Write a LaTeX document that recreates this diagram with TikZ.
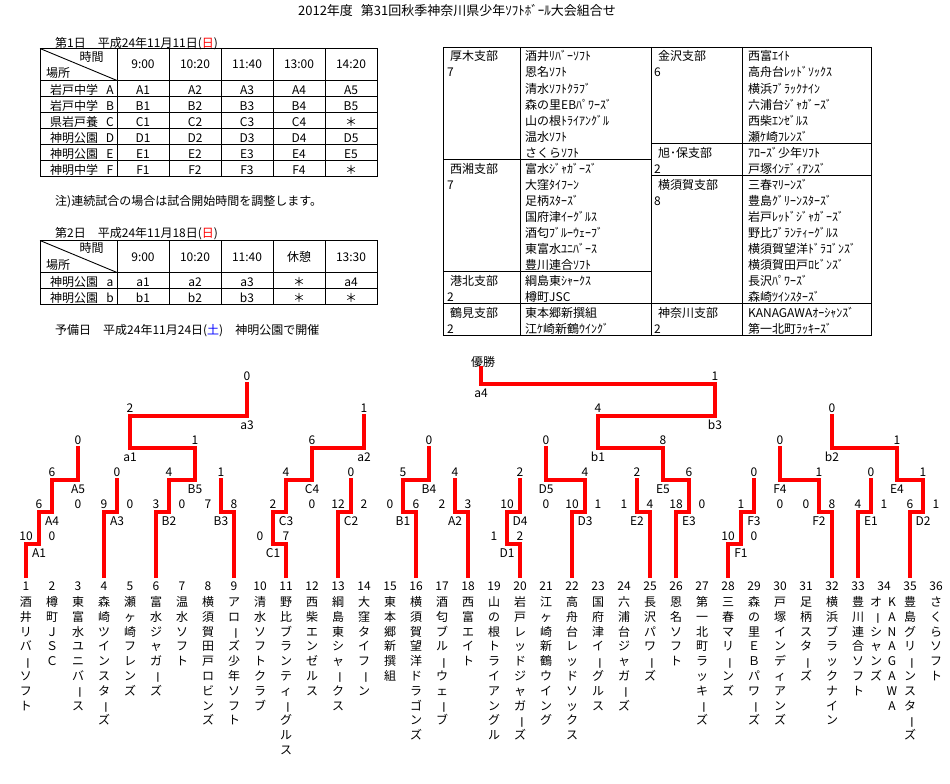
\documentclass[tikz,border=0pt]{standalone}
\usepackage{fontspec}
\usepackage{graphicx}
\setmainfont{Noto Sans CJK JP}
\usetikzlibrary{calc}
\pgfdeclarelayer{bg}
\pgfsetlayers{bg,main}
\newcommand\fsz{\fontsize{12}{14}\selectfont}
\makeatletter
\def\vt#1{\vbox{\offinterlineskip\vt@#1\relax}}
\def\vt@#1{\ifx\relax#1\else\vt@one{#1}\expandafter\vt@\fi}
\def\vt@one#1{\hbox to 13pt{\hss\vrule width0pt height11pt depth3.8pt\vt@chk{#1}\hss}}
\def\vt@bar{ー}
\def\vt@chk#1{\def\vt@tmp{#1}\ifx\vt@tmp\vt@bar\rotatebox[origin=c]{-90}{ー}\else#1\fi}
\makeatother
\newcommand\vtx[1]{\expandafter\vt\expandafter{#1}}
\tikzset{
  every node/.style={font=\fsz,inner sep=0pt},
  tx/.style={text height=10pt,text depth=1pt},
  win/.style={draw=red,line width=3.4pt,line cap=rect},
  lose/.style={draw=black,line width=0.9pt},
  grid/.style={draw=black,line width=0.9pt},
}
% #1 name #2 x #3 y #4 left child #5 right child #6 left score #7 right score #8 winner L/R #9 loser is match(1)/leaf(0)
\newcommand\bm[9]{%
  \coordinate (#1) at (#2,#3);
  \coordinate (#1L) at (#4 |- #1);
  \coordinate (#1R) at (#5 |- #1);
  \node[tx] (#1sl) at ([yshift=8pt]#1L) {#6};
  \node[tx] (#1sr) at ([yshift=8pt]#1R) {#7};
  \node[tx] (#1n) at ([yshift=-9pt]#1) {#1};
  \ifx L#8\def\bmw{#4}\def\bml{#5}\def\bmx{#1R}\else\def\bmw{#5}\def\bml{#4}\def\bmx{#1L}\fi
  \draw[win] (\bmw) |- (#1);
  \ifnum#9=1
    \draw[win] (\bml) -- (\bmx);
    \begin{pgfonlayer}{bg}\draw[lose] (\bmx) -- (#1);\end{pgfonlayer}
  \else
    \begin{pgfonlayer}{bg}\draw[lose] (\bml) |- (#1);\end{pgfonlayer}
  \fi
}
\begin{document}
\begin{tikzpicture}[x=1pt,y=-1pt]
\fill[white] (0,0) rectangle (950,784);
\useasboundingbox (0,0) rectangle (950,784);

% title
\node[tx,font=\fontsize{13}{15}\selectfont] (title) at (457,11) {2012年度\hspace{8pt}第31回秋季神奈川県少年ｿﾌﾄﾎﾞｰﾙ大会組合せ};

% ---------- table 1
\node[tx,anchor=west] (d1) at (55,42.7) {第1日　平成24年11月11日(\textcolor{red}{日})};
\draw[grid] (40,48.5) rectangle (377,176.5);
\foreach \y in {80.5,96.5,...,160.5} \draw[grid] (40,\y) -- (377,\y);
\foreach \x in {117,169,...,325} \draw[grid] (\x,48.5) -- (\x,176.5);
\draw[grid] (40,48.5) -- (117,80.5);
\node[tx] (h1a) at (91.5,56.7) {時間};
\node[tx] (h1b) at (58,72.7) {場所};
\foreach \tm [count=\c] in {9:00,10:20,11:40,13:00,14:20}
  \node[tx] (h1t\c) at ({91+52*\c},64.5) {\tm};
\foreach \lb/\rl/\ca/\cb/\cc/\cd/\ce [count=\r] in {岩戸中学/A/A1/A2/A3/A4/A5,岩戸中学/B/B1/B2/B3/B4/B5,県岩戸養/C/C1/C2/C3/C4/＊,神明公園/D/D1/D2/D3/D4/D5,神明公園/E/E1/E2/E3/E4/E5,神明中学/F/F1/F2/F3/F4/＊}{
  \node[tx,anchor=west] (p\r) at (50,{74+16*\r}) {\lb};
  \node[tx] (q\r) at (110,{74+16*\r}) {\rl};
  \node[tx] (c\r a) at (143,{74+16*\r}) {\ca};
  \node[tx] (c\r b) at (195,{74+16*\r}) {\cb};
  \node[tx] (c\r c) at (247,{74+16*\r}) {\cc};
  \node[tx] (c\r d) at (299,{74+16*\r}) {\cd};
  \node[tx] (c\r e) at (351,{74+16*\r}) {\ce};
}
\node[tx,anchor=west] (note) at (55,200.7) {注)連続試合の場合は試合開始時間を調整します。};

% ---------- table 2
\node[tx,anchor=west] (d2) at (55,233.3) {第2日　平成24年11月18日(\textcolor{red}{日})};
\draw[grid] (40,240.5) rectangle (377,304.5);
\foreach \y in {272.5,288.5} \draw[grid] (40,\y) -- (377,\y);
\foreach \x in {117,169,...,325} \draw[grid] (\x,240.5) -- (\x,304.5);
\draw[grid] (40,240.5) -- (117,272.5);
\node[tx] (h2a) at (91.5,247.5) {時間};
\node[tx] (h2b) at (58,265) {場所};
\foreach \tm [count=\c] in {9:00,10:20,11:40,休憩,13:30}
  \node[tx] (h2t\c) at ({91+52*\c},256.5) {\tm};
\foreach \rl/\ca/\cb/\cc/\cd/\ce [count=\r] in {a/a1/a2/a3/＊/a4,b/b1/b2/b3/＊/＊}{
  \node[tx,anchor=west] (pp\r) at (50,{266+16*\r}) {神明公園};
  \node[tx] (qq\r) at (110,{266+16*\r}) {\rl};
  \node[tx] (cc\r a) at (143,{266+16*\r}) {\ca};
  \node[tx] (cc\r b) at (195,{266+16*\r}) {\cb};
  \node[tx] (cc\r c) at (247,{266+16*\r}) {\cc};
  \node[tx] (cc\r d) at (299,{266+16*\r}) {\cd};
  \node[tx] (cc\r e) at (351,{266+16*\r}) {\ce};
}
\node[tx,anchor=west] (spare) at (55,330) {予備日　平成24年11月24日(\textcolor{blue}{土})　神明公園で開催};

% ---------- branch table
\draw[grid] (443,47) rectangle (871,335);
\draw[grid] (651,47) -- (651,335);
\draw[grid] (520,47) -- (520,335);
\draw[grid] (742,47) -- (742,335);
\foreach \y in {159,271,303} \draw[grid] (443,\y) -- (651,\y);
\foreach \y in {143,175,303} \draw[grid] (651,\y) -- (871,\y);
\foreach \br/\nb/\k [count=\i] in {厚木支部/7/0,西湘支部/7/7,港北支部/2/14,鶴見支部/2/16}{
  \node[tx,anchor=west] (bl\i) at (450,{56.5+16*\k}) {\br};
  \node[tx,anchor=west] (bln\i) at (447,{72.5+16*\k}) {\nb};
}
\foreach \br/\nb/\k [count=\i] in {金沢支部/6/0,旭･保支部/2/6,横須賀支部/8/8,神奈川支部/2/16}{
  \node[tx,anchor=west] (br\i) at (658,{56.5+16*\k}) {\br};
  \node[tx,anchor=west] (brn\i) at (654,{72.5+16*\k}) {\nb};
}
\foreach \tm [count=\i from 0] in {酒井ﾘﾊﾞｰｿﾌﾄ,恩名ｿﾌﾄ,清水ｿﾌﾄｸﾗﾌﾞ,森の里EBﾊﾟﾜｰｽﾞ,山の根ﾄﾗｲｱﾝｸﾞﾙ,温水ｿﾌﾄ,さくらｿﾌﾄ,富水ｼﾞｬｶﾞｰｽﾞ,大窪ﾀｲﾌｰﾝ,足柄ｽﾀｰｽﾞ,国府津ｲｰｸﾞﾙｽ,酒匂ﾌﾞﾙｰｳｪｰﾌﾞ,東富水ﾕﾆﾊﾞｰｽ,豊川連合ｿﾌﾄ,綱島東ｼｬｰｸｽ,樽町JSC,東本郷新撰組,江ｹ崎新鶴ｳｲﾝｸﾞ}
  \node[tx,anchor=west] (tl\i) at (525,{56.5+16*\i}) {\tm};
\foreach \tm [count=\i from 0] in {西富ｴｲﾄ,高舟台ﾚｯﾄﾞｿｯｸｽ,横浜ﾌﾞﾗｯｸﾅｲﾝ,六浦台ｼﾞｬｶﾞｰｽﾞ,西柴ｴﾝｾﾞﾙｽ,瀬ｹ崎ﾌﾚﾝｽﾞ,ｱﾛｰｽﾞ少年ｿﾌﾄ,戸塚ｲﾝﾃﾞｨｱﾝｽﾞ,三春ﾏﾘｰﾝｽﾞ,豊島ｸﾞﾘｰﾝｽﾀｰｽﾞ,岩戸ﾚｯﾄﾞｼﾞｬｶﾞｰｽﾞ,野比ﾌﾞﾗﾝﾃｨｰｸﾞﾙｽ,横須賀望洋ﾄﾞﾗｺﾞﾝｽﾞ,横須賀田戸ﾛﾋﾞﾝｽﾞ,長沢ﾊﾟﾜｰｽﾞ,森崎ﾂｲﾝｽﾀｰｽﾞ,KANAGAWAｵｰｼｬﾝｽﾞ,第一北町ﾗｯｷｰｽﾞ}
  \node[tx,anchor=west] (tr\i) at (748,{56.5+16*\i}) {\tm};

% ---------- bracket leaves
\foreach \i in {1,...,36}{
  \coordinate (t\i) at ({26*\i},576);
  \node[tx] (n\i) at ({26*\i},585.7) {\i};
}
\foreach \i/\nm in {1/酒井リバーソフト,2/樽町ＪＳＣ,3/東富水ユニバース,4/森崎ツインスターズ,5/瀬ヶ崎フレンズ,6/富水ジャガーズ,7/温水ソフト,8/横須賀田戸ロビンズ,9/アローズ少年ソフト,10/清水ソフトクラブ,11/野比ブランティーグルス,12/西柴エンゼルス,13/綱島東シャークス,14/大窪タイフーン,15/東本郷新撰組,16/横須賀望洋ドラゴンズ,17/酒匂ブルーウェーブ,18/西富エイト,19/山の根トライアングル,20/岩戸レッドジャガーズ,21/江ヶ崎新鶴ウイング,22/高舟台レッドソックス,23/国府津イーグルス,24/六浦台ジャガーズ,25/長沢パワーズ,26/恩名ソフト,27/第一北町ラッキーズ,28/三春マリーンズ,29/森の里ＥＢパワーズ,30/戸塚インディアンズ,31/足柄スターズ,32/横浜ブラックナイン,33/豊川連合ソフト,35/豊島グリーンスターズ,36/さくらソフト}
  \node[anchor=north] (nm\i) at ({26*\i},595.2) {\vtx{\nm}};
\node[anchor=north] (nm34a) at (892,595.2) {\vt{KANAGAWA}};
\node[anchor=north] (nm34b) at (876,595.2) {\vt{オーシャンズ}};

% ---------- matches
\bm{A1}{39}{544}{t1}{t2}{10}{0}{L}{0}
\bm{C1}{273}{544}{t10}{t11}{0}{7}{R}{0}
\bm{D1}{507}{544}{t19}{t20}{1}{2}{R}{0}
\bm{F1}{741}{544}{t28}{t29}{10}{0}{L}{0}

\bm{A4}{52}{512}{A1}{t3}{6}{0}{L}{0}
\bm{A3}{117}{512}{t4}{t5}{9}{0}{L}{0}
\bm{B2}{169}{512}{t6}{t7}{3}{0}{L}{0}
\bm{B3}{221}{512}{t8}{t9}{7}{8}{R}{0}
\bm{C3}{286}{512}{C1}{t12}{2}{0}{L}{0}
\bm{C2}{351}{512}{t13}{t14}{12}{2}{L}{0}
\bm{B1}{403}{512}{t15}{t16}{0}{6}{R}{0}
\bm{A2}{455}{512}{t17}{t18}{2}{3}{R}{0}
\bm{D4}{520}{512}{D1}{t21}{10}{0}{L}{0}
\bm{D3}{585}{512}{t22}{t23}{10}{1}{L}{0}
\bm{E2}{637}{512}{t24}{t25}{1}{4}{R}{0}
\bm{E3}{689}{512}{t26}{t27}{18}{0}{L}{0}
\bm{F3}{754}{512}{F1}{t30}{1}{0}{L}{0}
\bm{F2}{819}{512}{t31}{t32}{0}{8}{R}{0}
\bm{E1}{871}{512}{t33}{t34}{4}{1}{L}{0}
\bm{D2}{923}{512}{t35}{t36}{6}{1}{L}{0}

\bm{A5}{78}{480}{A4}{A3}{6}{0}{L}{1}
\bm{B5}{195}{480}{B2}{B3}{4}{1}{L}{1}
\bm{C4}{312}{480}{C3}{C2}{4}{0}{L}{1}
\bm{B4}{429}{480}{B1}{A2}{5}{4}{L}{1}
\bm{D5}{546}{480}{D4}{D3}{2}{4}{R}{1}
\bm{E5}{663}{480}{E2}{E3}{2}{6}{R}{1}
\bm{F4}{780}{480}{F3}{F2}{0}{1}{R}{1}
\bm{E4}{897}{480}{E1}{D2}{0}{1}{R}{1}

\bm{a1}{130}{448}{A5}{B5}{0}{1}{R}{1}
\bm{a2}{364}{448}{C4}{B4}{6}{0}{L}{1}
\bm{b1}{598}{448}{D5}{E5}{0}{8}{R}{1}
\bm{b2}{832}{448}{F4}{E4}{0}{1}{R}{1}

\bm{a3}{247}{416}{a1}{a2}{2}{1}{L}{1}
\bm{b3}{715}{416}{b1}{b2}{4}{0}{L}{1}

\bm{a4}{481}{384}{a3}{b3}{0}{1}{R}{1}

\node[tx] (yusho) at (483,362) {優勝};
\draw[win] (a4) -- (a4 |- yusho.south);
\end{tikzpicture}
\end{document}
